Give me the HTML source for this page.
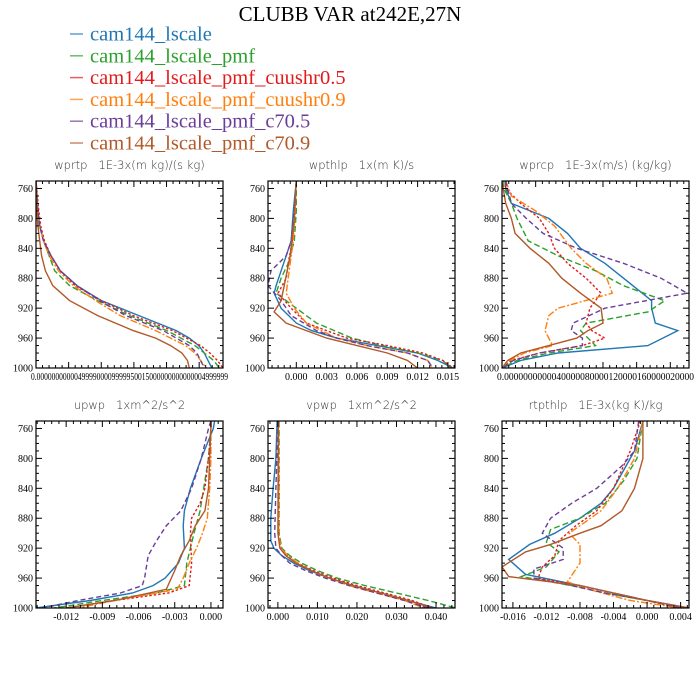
<!DOCTYPE html>
<html><head><meta charset="utf-8"><style>
body{margin:0;background:#fff;}
svg{display:block;}
.tk{font-family:"Liberation Serif",serif;font-size:10px;fill:#000;}
.pt{font-family:"DejaVu Sans",sans-serif;font-size:11.5px;fill:#333;font-weight:200;white-space:pre;}
</style></head><body>
<svg id="c" width="700" height="700" xmlns="http://www.w3.org/2000/svg">
<text x="350" y="21" text-anchor="middle" font-family="Liberation Serif,serif" font-size="21">CLUBB VAR at242E,27N</text>
</svg>
<script>
const seriesNames=["cam144_lscale","cam144_lscale_pmf","cam144_lscale_pmf_cuushr0.5","cam144_lscale_pmf_cuushr0.9","cam144_lscale_pmf_c70.5","cam144_lscale_pmf_c70.9"];
const seriesColors=["#1f77b4","#2ca02c","#e31a1c","#ff7f0e","#6a3d9a","#b15928"];
const seriesDash=["","6,3","2.5,2","7,2,2,2","5,3",""];
const yTicks=[760,800,840,880,920,960,1000];

const wprtpData=[
[[750,0],[790,0.01],[810,0.02],[830,0.04],[850,0.08],[870,0.13],[890,0.22],[910,0.35],[930,0.55],[950,0.75],[960,0.82],[970,0.87],[980,0.9],[990,0.92],[1000,0.94]],
[[750,0],[790,0.01],[810,0.02],[830,0.04],[850,0.07],[870,0.1],[890,0.18],[910,0.33],[930,0.5],[950,0.7],[970,0.85],[980,0.9],[990,0.95],[1000,0.98]],
[[750,0],[790,0.015],[810,0.025],[830,0.045],[850,0.08],[870,0.13],[890,0.21],[910,0.35],[930,0.52],[950,0.73],[970,0.88],[980,0.93],[990,0.97],[1000,1.0]],
[[750,0],[790,0.01],[810,0.02],[830,0.04],[850,0.07],[870,0.12],[890,0.2],[910,0.32],[930,0.45],[950,0.64],[970,0.8],[980,0.85],[990,0.88],[1000,0.91]],
[[750,0],[790,0.01],[810,0.02],[830,0.04],[850,0.08],[870,0.13],[890,0.22],[910,0.34],[930,0.48],[950,0.68],[970,0.82],[980,0.86],[990,0.88],[1000,0.9]],
[[750,0],[790,0.005],[810,0.01],[830,0.02],[850,0.03],[870,0.05],[890,0.09],[910,0.18],[930,0.33],[950,0.52],[960,0.64],[970,0.72],[980,0.78],[990,0.81],[1000,0.82]]];

const wpthlpData=[
[[750,0],[790,-0.0003],[830,-0.0005],[850,-0.001],[870,-0.0015],[890,-0.002],[900,-0.0022],[920,-0.0015],[940,0],[950,0.0015],[960,0.004],[970,0.008],[980,0.012],[990,0.014],[1000,0.0155]],
[[750,0],[790,0],[830,-0.0002],[860,-0.0008],[880,-0.0015],[900,-0.002],[920,0],[940,0.002],[960,0.0055],[970,0.0085],[980,0.012],[990,0.0145],[1000,0.0152]],
[[750,0],[790,-0.0001],[830,-0.0004],[860,-0.0008],[880,-0.001],[900,-0.0018],[920,-0.0005],[940,0.001],[960,0.005],[970,0.009],[980,0.0125],[990,0.0145],[1000,0.0155]],
[[750,0],[790,-0.0001],[830,-0.0003],[860,-0.0006],[880,-0.0008],[900,-0.001],[920,-0.0002],[940,0.001],[960,0.004],[970,0.007],[980,0.011],[990,0.013],[1000,0.0135]],
[[750,0],[790,-0.0002],[830,-0.0005],[850,-0.001],[870,-0.0025],[890,-0.0028],[910,-0.0015],[930,-0.0005],[950,0.002],[960,0.004],[970,0.007],[980,0.011],[990,0.013],[1000,0.0135]],
[[750,0],[800,-0.0002],[850,-0.0006],[890,-0.0012],[910,-0.0015],[925,-0.0022],[940,-0.001],[950,0.001],[960,0.003],[970,0.006],[980,0.009],[990,0.011],[1000,0.012]]];

const wprcpData=[
[[750,0.02],[760,0.02],[780,0.05],[800,0.25],[820,0.35],[840,0.42],[860,0.55],[880,0.65],[900,0.75],[910,0.8],[920,0.8],[940,0.82],[950,0.94],[970,0.78],[980,0.3],[990,0.1],[1000,0]],
[[750,0.01],[760,0.01],[780,0.05],[800,0.08],[830,0.14],[850,0.3],[870,0.5],[890,0.65],[910,0.87],[925,0.78],[940,0.45],[950,0.42],[970,0.5],[980,0.25],[990,0.08],[1000,0]],
[[750,0.02],[760,0.02],[780,0.1],[800,0.2],[820,0.25],[840,0.28],[860,0.35],[880,0.45],[900,0.53],[920,0.47],[940,0.45],[950,0.48],[960,0.55],[970,0.43],[980,0.2],[990,0.05],[1000,0]],
[[750,0.02],[770,0.05],[790,0.18],[810,0.28],[840,0.37],[860,0.45],[880,0.56],[900,0.59],[920,0.3],[930,0.25],[950,0.23],[970,0.27],[980,0.12],[990,0.04],[1000,0]],
[[750,0.02],[780,0.05],[800,0.13],[820,0.22],[840,0.4],[860,0.65],[880,0.85],[900,0.99],[920,0.55],[940,0.38],[950,0.37],[960,0.43],[970,0.43],[980,0.2],[990,0.06],[1000,0]],
[[750,0],[780,0.02],[800,0.05],[820,0.07],[840,0.15],[860,0.25],[880,0.32],[900,0.42],[920,0.53],[940,0.54],[950,0.46],[960,0.4],[970,0.25],[980,0.1],[990,0.03],[1000,0]]];

const upwpData=[
[[750,0.0003],[760,0.0002],[780,-0.0003],[800,-0.0008],[840,-0.0017],[870,-0.0022],[890,-0.0023],[920,-0.0022],[940,-0.0027],[960,-0.0038],[970,-0.0048],[980,-0.0065],[990,-0.01],[1000,-0.0145]],
[[750,0],[760,0],[800,-0.0002],[840,-0.0006],[870,-0.0009],[900,-0.0014],[940,-0.002],[970,-0.0022],[980,-0.0045],[990,-0.009],[1000,-0.013]],
[[750,0],[760,0],[800,-0.0002],[840,-0.0005],[860,-0.0009],[880,-0.0016],[900,-0.0017],[940,-0.0016],[970,-0.0018],[980,-0.0035],[990,-0.008],[1000,-0.012]],
[[750,0],[760,0],[800,0],[840,-0.0001],[880,-0.0003],[900,-0.0007],[920,-0.0012],[940,-0.0018],[960,-0.0023],[975,-0.0028],[990,-0.008],[1000,-0.011]],
[[750,0],[760,-0.0002],[800,-0.0008],[840,-0.0016],[870,-0.0025],[890,-0.0037],[910,-0.0045],[930,-0.0052],[960,-0.0055],[970,-0.0057],[980,-0.0075],[990,-0.011],[1000,-0.014]],
[[750,0],[760,0],[800,-0.0001],[840,-0.0002],[870,-0.0005],[890,-0.0013],[910,-0.0018],[930,-0.0025],[950,-0.003],[975,-0.0037],[990,-0.008],[1000,-0.012]]];

const vpwpData=[
[[750,-0.0002],[800,-0.0005],[840,-0.0012],[880,-0.0018],[910,-0.0018],[920,-0.001],[930,0.001],[940,0.004],[950,0.008],[960,0.013],[970,0.019],[980,0.026],[990,0.033],[1000,0.04]],
[[750,0.0003],[900,0.0003],[920,0.001],[930,0.003],[940,0.006],[950,0.01],[960,0.015],[970,0.022],[980,0.03],[990,0.038],[1000,0.045]],
[[750,0.0002],[900,0.0002],[920,0.0008],[930,0.0025],[940,0.005],[950,0.009],[960,0.014],[970,0.02],[980,0.027],[990,0.034],[1000,0.039]],
[[750,0.0002],[900,0.0002],[920,0.0008],[930,0.0025],[940,0.005],[950,0.0085],[960,0.013],[970,0.018],[980,0.025],[990,0.032],[1000,0.037]],
[[750,0],[840,-0.0005],[900,-0.0008],[920,-0.0005],[930,0.001],[940,0.003],[950,0.007],[960,0.012],[970,0.018],[980,0.025],[990,0.032],[1000,0.038]],
[[750,0.0001],[900,0],[920,0.0005],[930,0.002],[940,0.0045],[950,0.0085],[960,0.013],[970,0.019],[980,0.026],[990,0.033],[1000,0.039]]];

const rtpthlpData=[
[[750,-0.0005],[790,-0.0015],[810,-0.0025],[840,-0.004],[860,-0.0055],[880,-0.008],[900,-0.011],[915,-0.014],[935,-0.0165],[955,-0.0145],[970,-0.008],[980,-0.004],[990,0],[1000,0.005]],
[[750,-0.0005],[800,-0.0012],[830,-0.0028],[860,-0.005],[880,-0.008],[895,-0.0115],[912,-0.012],[925,-0.0105],[945,-0.012],[958,-0.015],[970,-0.009],[980,-0.005],[990,0],[1000,0.004]],
[[750,-0.0008],[790,-0.002],[840,-0.004],[870,-0.006],[890,-0.0085],[910,-0.0105],[930,-0.011],[945,-0.0125],[960,-0.013],[970,-0.008],[980,-0.004],[990,0],[1000,0.004]],
[[750,-0.0005],[800,-0.0015],[840,-0.0035],[870,-0.0055],[890,-0.008],[900,-0.0093],[915,-0.008],[940,-0.008],[965,-0.0095],[975,-0.007],[990,-0.002],[1000,0.004]],
[[750,-0.001],[790,-0.0015],[810,-0.003],[840,-0.006],[860,-0.009],[880,-0.0115],[900,-0.0125],[920,-0.01],[935,-0.01],[948,-0.0135],[960,-0.0135],[970,-0.009],[980,-0.005],[990,0],[1000,0.004]],
[[750,-0.0005],[800,-0.0005],[840,-0.0015],[870,-0.003],[890,-0.0055],[900,-0.008],[915,-0.0115],[925,-0.0145],[945,-0.0173],[958,-0.0165],[970,-0.008],[980,-0.004],[990,0],[1000,0.005]]];

const panels=[
{name:"wprtp",title:"wprtp   1E-3x(m kg)/(s kg)",x0:36,y0:181,data:wprtpData,dom:[0,1],ticks:[0,0.1745,0.349,0.5235,0.698,0.8725],labels:null,garbled:"0.000000000004999900009999950015000000000000004999999"},
{name:"wpthlp",title:"wpthlp   1x(m K)/s",x0:268,y0:181,data:wpthlpData,dom:[-0.0028,0.0157],ticks:[0,0.003,0.006,0.009,0.012,0.015],labels:["0.000","0.003","0.006","0.009","0.012","0.015"]},
{name:"wprcp",title:"wprcp   1E-3x(m/s) (kg/kg)",x0:502,y0:181,data:wprcpData,dom:[0,1],ticks:[0,0.18,0.36,0.54,0.72,0.9],labels:null,garbled:"0.0000000000040000080000120000160000020000"},
{name:"upwp",title:"upwp   1xm^2/s^2",x0:36,y0:421,data:upwpData,dom:[-0.0145,0.001],ticks:[-0.012,-0.009,-0.006,-0.003,0],labels:["-0.012","-0.009","-0.006","-0.003","0.000"]},
{name:"vpwp",title:"vpwp   1xm^2/s^2",x0:268,y0:421,data:vpwpData,dom:[-0.0025,0.0448],ticks:[0,0.01,0.02,0.03,0.04],labels:["0.000","0.010","0.020","0.030","0.040"]},
{name:"rtpthlp",title:"rtpthlp   1E-3x(kg K)/kg",x0:502,y0:421,data:rtpthlpData,dom:[-0.0173,0.005],ticks:[-0.016,-0.012,-0.008,-0.004,0,0.004],labels:["-0.016","-0.012","-0.008","-0.004","0.000","0.004"]}];

const W=187,H=187,NS="http://www.w3.org/2000/svg";
const svg=document.getElementById('c');
function mk(t,a,p){const e=document.createElementNS(NS,t);for(const k in a)e.setAttribute(k,a[k]);(p||svg).appendChild(e);return e;}

seriesNames.forEach((n,i)=>{
  const g=mk('g',{});
  
  
  const y=34+i*21.8;
  mk('line',{x1:70,x2:83,y1:y,y2:y,stroke:seriesColors[i],'stroke-width':1.5,opacity:0.7},g);
  const t=mk('text',{x:90,y:y+6.5,fill:seriesColors[i],'font-family':'Liberation Serif,serif','font-size':20.5},g);
  t.textContent=n;
});

panels.forEach(P=>{
  const g=mk('g',{});
  
  
  const sx=v=>P.x0+(v-P.dom[0])/(P.dom[1]-P.dom[0])*W;
  const sy=p=>P.y0+(p-750)/250*H;
  const t=mk('text',{x:P.x0+W/2,y:P.y0-12,'text-anchor':'middle',class:'pt'},g);
  
  
  t.textContent=P.title;
  const cid='clip-'+P.name;
  const cp=mk('clipPath',{id:cid},g);mk('rect',{x:P.x0,y:P.y0,width:W,height:H},cp);
  const lg=mk('g',{'clip-path':'url(#'+cid+')'},g);
  P.data.forEach((s,i)=>{
    const d=s.map((q,j)=>(j?'L':'M')+sx(q[1]).toFixed(1)+','+sy(q[0]).toFixed(1)).join('');
    const pa=mk('path',{d:d,fill:'none',stroke:seriesColors[i],'stroke-width':1.4,'stroke-dasharray':seriesDash[i]},lg);
    
    
  });
  mk('rect',{x:P.x0,y:P.y0,width:W,height:H,fill:'none',stroke:'#000','stroke-width':1.2},g);
  for(let p=750;p<=1000;p+=10){
    const y=sy(p);
    const len=(yTicks.indexOf(p)>=0)?6:3;
    mk('line',{x1:P.x0,x2:P.x0+len,y1:y,y2:y,stroke:'#000','stroke-width':1},g);
    mk('line',{x1:P.x0+W,x2:P.x0+W-len,y1:y,y2:y,stroke:'#000','stroke-width':1},g);
  }
  yTicks.forEach(p=>{
    const tt=mk('text',{x:P.x0-3,y:sy(p)+3.5,'text-anchor':'end',class:'tk'},g);
    tt.textContent=p;
  });
  const step=P.ticks[1]-P.ticks[0];
  for(let k=-20;k<=40;k++){
    const v=P.ticks[0]+k*step/5;
    if(v<P.dom[0]-1e-12||v>P.dom[1]+1e-12)continue;
    const x=sx(v),len=(k%5===0)?6:3;
    mk('line',{x1:x,x2:x,y1:P.y0+H,y2:P.y0+H-len,stroke:'#000','stroke-width':1},g);
    mk('line',{x1:x,x2:x,y1:P.y0,y2:P.y0+len,stroke:'#000','stroke-width':1},g);
  }
  if(P.labels){P.labels.forEach((l,i)=>{
    const tt=mk('text',{x:sx(P.ticks[i]),y:P.y0+H+12,'text-anchor':'middle',class:'tk'},g);
    tt.textContent=l;});}
  else{
    const tt=mk('text',{x:P.x0+W/2,y:P.y0+H+12,'text-anchor':'middle',class:'tk',textLength:W+10,lengthAdjust:'spacingAndGlyphs'},g);
    tt.textContent=P.garbled;
  }
});
</script>
</body></html>
